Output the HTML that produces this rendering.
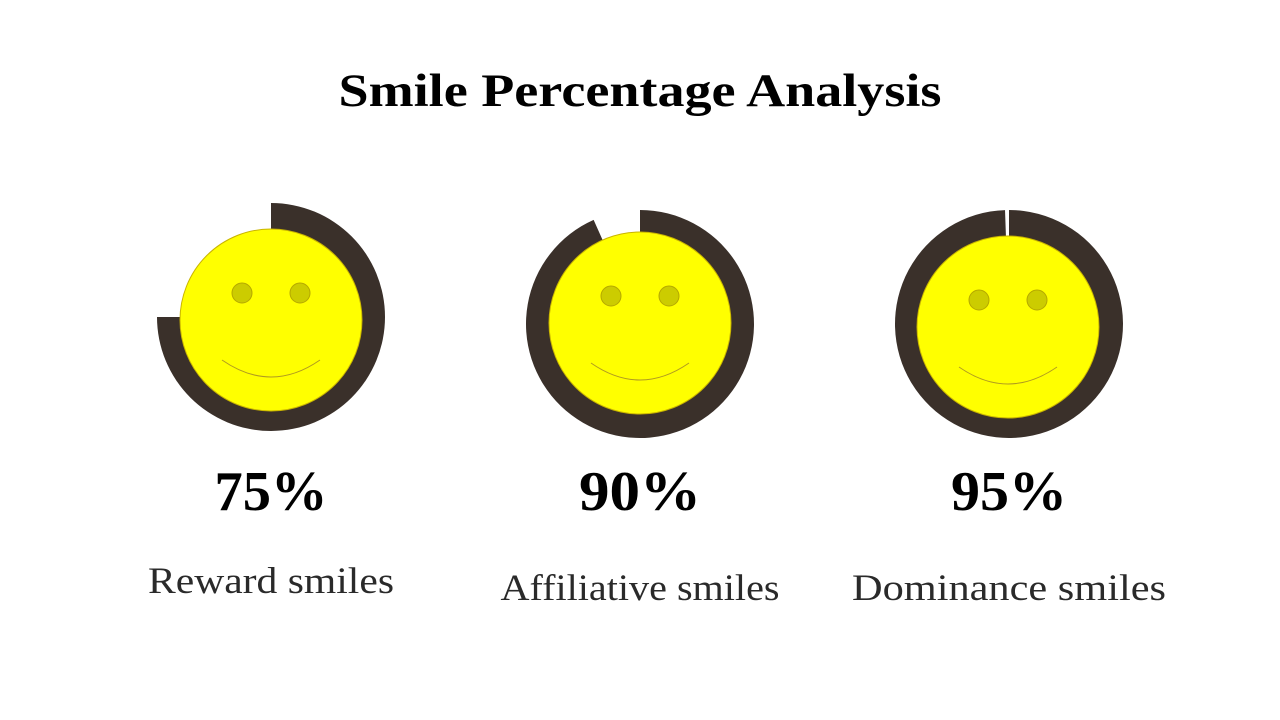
<!DOCTYPE html>
<html><head><meta charset="utf-8"><style>
html,body{margin:0;padding:0;background:#fff;}
body{width:1280px;height:720px;position:relative;overflow:hidden;font-family:"Liberation Serif",serif;}
svg{position:absolute;left:0;top:0;}
</style></head><body>
<svg width="1280" height="720">
<text x="640" y="106" text-anchor="middle" textLength="603" lengthAdjust="spacingAndGlyphs" font-family="Liberation Serif, serif" font-weight="bold" font-size="47" fill="#000">Smile Percentage Analysis</text>
<g id="gauges"></g>
</svg>
<script>
const categories=["Reward smiles","Affiliative smiles","Dominance smiles"];
const percentValues=[75,90,95];
const percentLabels=["75%","90%","95%"];
const layout=[{cx:271,cy:317,fx:271,fy:320,ly:593,lw:246,pw:113},{cx:640,cy:324,fx:640,fy:323,ly:600,lw:279,pw:122},{cx:1009,cy:324,fx:1008,fy:327,ly:600,lw:314,pw:116}];
const NS="http://www.w3.org/2000/svg";
const g=document.getElementById('gauges');
function mk(t,a){const e=document.createElementNS(NS,t);for(const k in a)e.setAttribute(k,a[k]);g.appendChild(e);return e;}
function angle(p){let d=p<=75?p*3.6:270+(p-75)*4.4;d=Math.min(d,359);return d*Math.PI/180;}
percentValues.forEach((v,i)=>{
  const L=layout[i],R=114,a=angle(v);
  const x=L.cx+R*Math.sin(a),y=L.cy-R*Math.cos(a);
  const large=a>Math.PI?1:0;
  const arc=mk('path',{d:`M${L.cx},${L.cy} L${L.cx},${L.cy-R} A${R},${R} 0 ${large} 1 ${x},${y} Z`,fill:'#3a302a'});
  
  
  const face=mk('circle',{cx:L.fx,cy:L.fy,r:91,fill:'#ffff00',stroke:'#c9b400','stroke-width':1});
  
  
  [-29,29].forEach(dx=>{
    const eye=mk('circle',{cx:L.fx+dx,cy:L.fy-27,r:10,fill:'#cccc00',stroke:'#b5a800','stroke-width':1});
    
    
  });
  const m=mk('path',{d:`M${L.fx-49},${L.fy+40} Q${L.fx},${L.fy+74} ${L.fx+49},${L.fy+40}`,fill:'none',stroke:'#b09a20','stroke-width':1});
  
  
  const pt=mk('text',{x:L.cx,y:510,'text-anchor':'middle','font-weight':'bold','font-size':56,fill:'#000',textLength:L.pw,lengthAdjust:'spacingAndGlyphs'});
  pt.textContent=percentLabels[i];
  
  
  const lt=mk('text',{x:L.cx,y:L.ly,'text-anchor':'middle','font-size':37,fill:'#2a2a2a',textLength:L.lw,lengthAdjust:'spacingAndGlyphs'});
  lt.textContent=categories[i];
  
  
});
</script>
</body></html>
